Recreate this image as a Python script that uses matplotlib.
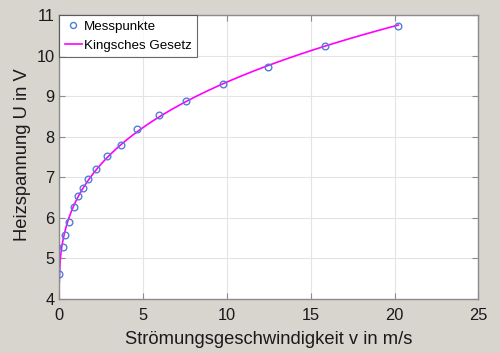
import numpy as np
import matplotlib
matplotlib.use("Agg")
import matplotlib.pyplot as plt

plt.rcParams['font.family'] = ['Liberation Sans', 'DejaVu Sans']

# Measured points
v_mess = [0.0, 0.24, 0.34, 0.56, 0.88, 1.10, 1.39, 1.73, 2.19, 2.83, 3.66,
          4.64, 5.95, 7.54, 9.79, 12.45, 15.87, 20.23]
U_mess = [4.61, 5.28, 5.58, 5.90, 6.27, 6.55, 6.73, 6.96, 7.21, 7.52, 7.80,
          8.18, 8.53, 8.87, 9.30, 9.72, 10.24, 10.73]

x_ticks = [0, 5, 10, 15, 20, 25]
y_ticks = [4, 5, 6, 7, 8, 9, 10, 11]
xlabel = "Strömungsgeschwindigkeit v in m/s"
ylabel = "Heizspannung U in V"
labels = ["Messpunkte", "Kingsches Gesetz"]

# King's law fit: U^2 = A + B * v^n (least squares from the measured points)
v = np.array(v_mess)
U2 = np.array(U_mess) ** 2
best = None
for n in np.linspace(0.2, 1.0, 801):
    M = np.column_stack([np.ones_like(v), v ** n])
    coef, *_ = np.linalg.lstsq(M, U2, rcond=None)
    res = np.sum((M @ coef - U2) ** 2)
    if best is None or res < best[0]:
        best = (res, n, coef)
_, n_fit, (A_fit, B_fit) = best
v_fit = np.linspace(v.min(), v.max(), 400)
U_fit = np.sqrt(A_fit + B_fit * v_fit ** n_fit)

bg = '#d8d5cf'
txt = '#1a1a1a'
fig = plt.figure(figsize=(5.0, 3.53), dpi=100, facecolor=bg)
ax = fig.add_axes([0.1186, 0.153, 0.8380, 0.8045])
ax.set_facecolor('white')

ax.plot(v_mess, U_mess, 'o', ls='none', mfc='none', mec='#4f7fd8', ms=4.8, mew=1.0,
        label=labels[0], zorder=3)
ax.plot(v_fit, U_fit, color='#ff00ff', lw=1.2, label=labels[1], zorder=2)

ax.set_xlim(0, 25)
ax.set_ylim(4, 11)
ax.set_xticks(x_ticks)
ax.set_yticks(y_ticks)
ax.grid(True, color='#e4e4e4', lw=0.8)
ax.set_axisbelow(True)
for s in ax.spines.values():
    s.set_color('#8c8c8c')
    s.set_linewidth(1.0)
ax.tick_params(direction='in', top=True, right=True, length=4, width=0.8,
               color='#8c8c8c', labelsize=11.8, labelcolor=txt)
ax.tick_params(axis='x', pad=6.5)
ax.tick_params(axis='y', pad=3.5)
ax.set_xlabel(xlabel, fontsize=13.2, color=txt, va='top')
ax.xaxis.set_label_coords(0.5, -0.112)
ax.set_ylabel(ylabel, fontsize=13.2, color=txt, va='center')
ax.yaxis.set_label_coords(-0.089, 0.51)

leg = ax.legend(loc='upper left', fontsize=9.6, frameon=True, fancybox=False,
                borderaxespad=0.0, handlelength=1.3, handletextpad=0.15,
                borderpad=0.4, labelspacing=0.5, markerscale=0.9)
leg.get_frame().set_edgecolor('#444444')
leg.get_frame().set_linewidth(0.8)

fig.savefig('out.png', dpi=100, facecolor=bg)
